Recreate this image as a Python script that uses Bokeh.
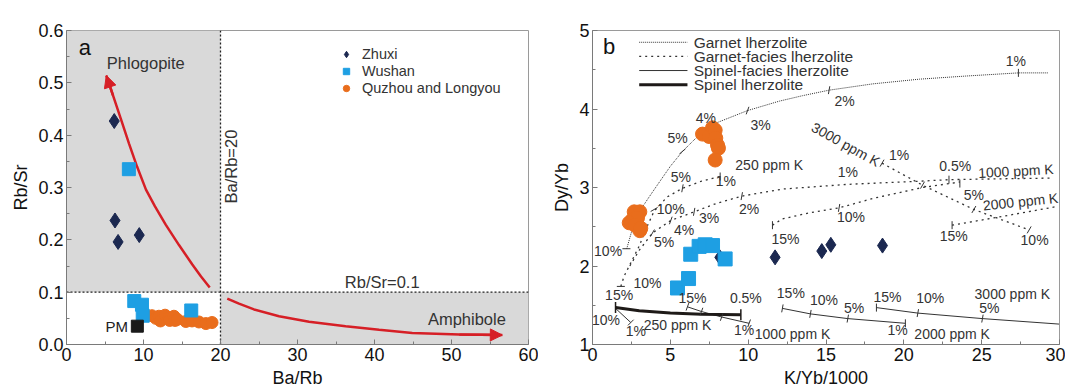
from bokeh.plotting import figure
from bokeh.layouts import row
from bokeh.models import (Range1d, Legend, LegendItem, Arrow, NormalHead,
                          NumeralTickFormatter, FixedTicker)
from bokeh.core.properties import value
from bokeh.embed import file_html
from bokeh.resources import INLINE
import math

FONT = "Liberation Sans"
NAVY = "#1b2850"
BLUE = "#1e9fe3"
ORANGE = "#e96d1c"
RED = "#d61f26"
GRAY = "#d9d9d9"

# ---------------- Panel a data ----------------
zhuxi_a_x = [6.2, 6.3, 6.7, 9.45]
zhuxi_a_y = [0.427, 0.237, 0.196, 0.209]
wushan_a_x = [8.1, 8.8, 9.8, 9.9, 16.2]
wushan_a_y = [0.335, 0.083, 0.076, 0.055, 0.065]
qz_a_x = [11.1, 11.6, 12.0, 12.2, 12.8, 13.3, 13.4, 13.95, 14.1, 14.4, 15.5, 16.3, 17.2, 18.1, 18.9]
qz_a_y = [0.055, 0.050, 0.054, 0.045, 0.056, 0.051, 0.046, 0.054, 0.046, 0.048, 0.044, 0.045, 0.043, 0.040, 0.042]
pm_x = [9.2]
pm_y = [0.035]

# trend arrows (phlogopite, amphibole)
phl_x = [18.6, 17.47, 16.34, 14.61, 12.88, 11.49, 10.32, 9.16, 8.12, 7.08, 6.04, 5.17]
phl_y = [0.109, 0.130, 0.153, 0.190, 0.229, 0.264, 0.296, 0.340, 0.384, 0.430, 0.476, 0.514]
amp_x = [20.88, 22.4, 24.35, 27.6, 31.5, 36.26, 40.6, 44.9, 51.0, 56.6]
amp_y = [0.0878, 0.078, 0.067, 0.054, 0.0435, 0.035, 0.028, 0.022, 0.019, 0.018]

# ---------------- Panel b data ----------------
zhuxi_b_x = [8.18, 11.73, 14.73, 15.31, 18.63]
zhuxi_b_y = [2.11, 2.11, 2.19, 2.27, 2.26]
wushan_b_x = [5.46, 6.17, 6.31, 6.85, 7.24, 7.71, 8.52]
wushan_b_y = [1.72, 1.84, 2.15, 2.25, 2.27, 2.26, 2.09]
qz_b_x = [7.07, 7.49, 7.71, 7.88, 7.92, 8.03, 8.09, 7.88,
          2.68, 3.04, 2.57, 2.89, 2.36, 2.74, 3.04, 3.10]
qz_b_y = [3.68, 3.65, 3.76, 3.73, 3.63, 3.54, 3.50, 3.35,
          2.69, 2.69, 2.59, 2.61, 2.55, 2.52, 2.45, 2.48]

# Garnet lherzolite melting curve
gl_x = [2.2, 2.57, 3.1, 3.64, 4.3, 5.0, 5.78, 6.8, 7.92, 9.96, 12.0, 13.5, 15.2, 18.0, 21.0, 24.0, 27.36, 29.3]
gl_y = [2.22, 2.48, 2.72, 2.88, 3.07, 3.27, 3.46, 3.66, 3.82, 3.98, 4.10, 4.17, 4.24, 4.32, 4.38, 4.42, 4.46, 4.46]

# Garnet-facies lherzolite curves
gf1_x = [1.82, 2.03, 2.46, 2.99, 3.5, 3.96, 4.8, 5.78, 7.0, 8.2]
gf1_y = [1.74, 1.87, 2.04, 2.25, 2.50, 2.70, 2.88, 2.99, 3.08, 3.14]
gf2_x = [2.4, 3.0, 3.85, 5.03, 6.53, 8.0, 9.59, 12.2, 16.4, 21.0, 22.9, 26.0, 29.5]
gf2_y = [2.00, 2.20, 2.42, 2.58, 2.69, 2.80, 2.89, 2.98, 3.04, 3.08, 3.10, 3.11, 3.12]
gf3_x = [11.56, 12.2, 14.0, 15.84, 18.0, 21.2, 23.6]
gf3_y = [2.52, 2.60, 2.68, 2.74, 2.86, 3.00, 3.07]
gf4_x = [18.6, 21.2, 24.5, 28.05]
gf4_y = [3.31, 3.03, 2.72, 2.46]
gf5_x = [23.1, 26.0, 29.9]
gf5_y = [2.52, 2.62, 2.76]

# Spinel-facies lherzolite curves
sf1_x = [1.48, 2.46]
sf1_y = [1.46, 1.28]
sf2_x = [6.1, 7.0, 8.3, 10.06]
sf2_y = [1.48, 1.42, 1.35, 1.27]
sf3_x = [12.2, 14.0, 16.4, 20.1]
sf3_y = [1.46, 1.39, 1.33, 1.27]
sf4_x = [18.24, 20.9, 25.05, 29.97]
sf4_y = [1.47, 1.40, 1.33, 1.26]

# Spinel lherzolite curve
sp_x = [1.48, 3.0, 5.0, 7.0, 9.53]
sp_y = [1.47, 1.43, 1.40, 1.385, 1.38]

# melting-degree tick positions on curves
mt_x = [27.36, 15.2, 9.96, 5.78, 2.18,
        1.82, 3.96, 5.78, 8.2,
        3.85, 5.03, 6.53, 9.59, 22.9,
        11.56, 15.84, 23.6,
        18.6, 21.2, 24.5, 28.05, 23.1,
        2.46, 6.1, 7.0, 8.3, 10.06,
        12.2, 14.0, 16.4, 20.1,
        18.24, 20.9, 25.05]
mt_y = [4.46, 4.24, 3.98, 3.46, 2.22,
        1.74, 2.72, 2.99, 3.14,
        2.42, 2.58, 2.69, 2.89, 3.10,
        2.52, 2.74, 3.05,
        3.31, 3.03, 2.72, 2.46, 2.52,
        1.28, 1.48, 1.42, 1.35, 1.27,
        1.46, 1.39, 1.33, 1.27,
        1.47, 1.40, 1.33]
mt_angle = [90, 80, 70, 40, 0,
            0, 30, 80, 90,
            60, 70, 80, 80, 90,
            90, 80, 90,
            60, 60, 60, 60, 90,
            45, 70, 70, 70, 70,
            80, 80, 80, 90,
            90, 80, 80]
end_x = [1.48, 9.53]
end_y = [1.47, 1.38]

lab_b_text = ["1%", "2%", "3%", "4%", "5%", "10%",
              "250 ppm K", "5%", "1%", "10%", "3%", "2%", "4%", "5%",
              "3000 ppm K", "1%", "1%", "0.5%", "1000 ppm K", "5%", "2000 ppm K",
              "10%", "15%", "10%", "15%",
              "10%", "15%", "15%", "0.5%", "10%", "1%", "250 ppm K", "1%", "1000 ppm K",
              "15%", "10%", "5%", "15%", "10%", "3000 ppm K", "5%", "1%", "2000 ppm K"]
lab_b_x = [27.2, 16.2, 10.8, 7.28, 5.46, 1.0,
           11.35, 5.67, 8.56, 5.03, 7.49, 10.06, 5.89, 4.6,
           16.27, 19.7, 16.4, 23.3, 27.2, 24.5, 27.5,
           16.6, 23.2, 28.4, 12.4,
           3.53, 1.71, 6.42, 9.85, 0.86, 2.78, 5.46, 9.74, 12.85,
           12.74, 14.87, 16.8, 18.95, 21.7, 26.97, 25.5, 19.6, 23.1]
lab_b_y = [4.61, 4.10, 3.80, 3.89, 3.63, 2.19,
           3.29, 3.14, 3.08, 2.72, 2.61, 2.72, 2.46, 2.31,
           3.55, 3.42, 3.20, 3.28, 3.21, 2.91, 2.82,
           2.63, 2.38, 2.33, 2.35,
           1.78, 1.63, 1.59, 1.59, 1.31, 1.17, 1.25, 1.19, 1.14,
           1.65, 1.57, 1.46, 1.60, 1.59, 1.64, 1.46, 1.19, 1.13]
lab_b_angle = [0, 0, 0, 0, 0, 0,
               0, 0, 0, 0, 0, 0, 0, 0,
               -29, 0, 0, 0, 3, 0, 6,
               0, 0, 0, 0,
               0, 0, 0, 0, 0, 0, 0, 0, 0,
               0, 0, 0, 0, 0, 0, 0, 0, 0]

legend_b_labels = ["Garnet lherzolite", "Garnet-facies lherzolite",
                   "Spinel-facies lherzolite", "Spinel lherzolite"]
legend_b_rows = [4.85, 4.67, 4.49, 4.31]


def style_axes(p):
    p.outline_line_color = "#9a9a9a"
    p.outline_line_width = 1
    p.grid.visible = False
    for ax in (p.xaxis[0], p.yaxis[0]):
        ax.axis_line_color = "#7a7a7a"
        ax.major_tick_line_color = "#7a7a7a"
        ax.minor_tick_line_color = "#7a7a7a"
        ax.major_tick_in = 5
        ax.major_tick_out = 0
        ax.minor_tick_in = 3
        ax.minor_tick_out = 0
        ax.major_label_text_font = FONT
        ax.major_label_text_font_size = "18px"
        ax.major_label_text_color = "#111111"
        ax.axis_label_text_font = FONT
        ax.axis_label_text_font_size = "18px"
        ax.axis_label_text_font_style = "normal"
        ax.axis_label_text_color = "#111111"
        ax.major_label_standoff = 3
        ax.axis_label_standoff = 4


# ---------------- Panel a ----------------
pa = figure(frame_width=462, frame_height=314, output_backend="svg", toolbar_location=None,
            x_range=Range1d(0, 60), y_range=Range1d(0, 0.6),
            min_border_left=66, min_border_right=10, min_border_top=30, min_border_bottom=0,
            x_axis_label="Ba/Rb", y_axis_label="Rb/Sr")
style_axes(pa)
pa.xaxis.ticker = FixedTicker(ticks=[0, 10, 20, 30, 40, 50, 60], minor_ticks=[5, 15, 25, 35, 45, 55])
pa.yaxis.ticker = FixedTicker(ticks=[0, 0.1, 0.2, 0.3, 0.4, 0.5, 0.6],
                              minor_ticks=[0.05, 0.15, 0.25, 0.35, 0.45, 0.55])
pa.yaxis.formatter = NumeralTickFormatter(format="0.0")

pa.quad(left=[0, 20], right=[20, 60], bottom=[0.1, 0], top=[0.6, 0.1], fill_color=GRAY, line_color=None)
pa.line([20, 20], [0, 0.6], line_color="#222222", line_dash="2 2", line_width=1.3)
pa.line([0, 60], [0.1, 0.1], line_color="#222222", line_dash="2 2", line_width=1.3)

pa.line(phl_x, phl_y, line_color=RED, line_width=2.5)
pa.add_layout(Arrow(end=NormalHead(size=12, fill_color=RED, line_color=RED),
                    x_start=phl_x[-2], y_start=phl_y[-2], x_end=phl_x[-1], y_end=phl_y[-1],
                    line_color=RED, line_width=2.5))
pa.line(amp_x, amp_y, line_color=RED, line_width=2.5)
pa.add_layout(Arrow(end=NormalHead(size=12, fill_color=RED, line_color=RED),
                    x_start=amp_x[-2], y_start=amp_y[-2], x_end=amp_x[-1], y_end=amp_y[-1],
                    line_color=RED, line_width=2.5))

r_q = pa.scatter(qz_a_x, qz_a_y, marker="circle", size=12, fill_color=ORANGE, line_color=ORANGE)
r_w = pa.scatter(wushan_a_x, wushan_a_y, marker="square", size=13, fill_color=BLUE, line_color=BLUE)
r_z = pa.scatter(zhuxi_a_x, zhuxi_a_y, marker="diamond", size=15, fill_color=NAVY, line_color=NAVY)
pa.scatter(pm_x, pm_y, marker="square", size=12, fill_color="#1a1a1a", line_color="#1a1a1a")

pa.text(x=[2.4], y=[0.567], text=["a"], text_font=value(FONT), text_font_size="22px",
        text_color="#111111", text_align="center", text_baseline="middle")
pa.text(x=[10.3, 41.0, 52.0], y=[0.537, 0.12, 0.048], text=["Phlogopite", "Rb/Sr=0.1", "Amphibole"],
        text_font=value(FONT), text_font_size="16.5px", text_color="#333333",
        text_align="center", text_baseline="middle")
pa.text(x=[pm_x[0] - 1.2], y=[pm_y[0]], text=["PM"], text_font=value(FONT), text_font_size="15px",
        text_color="#222222", text_align="right", text_baseline="middle")
pa.text(x=[21.3], y=[0.34], text=["Ba/Rb=20"], angle=math.pi / 2, text_font=value(FONT),
        text_font_size="16.5px", text_color="#333333", text_align="center", text_baseline="middle")

leg_a = Legend(items=[LegendItem(label="Zhuxi", renderers=[r_z]),
                      LegendItem(label="Wushan", renderers=[r_w]),
                      LegendItem(label="Quzhou and Longyou", renderers=[r_q])],
               location=(272, 248), background_fill_alpha=0, border_line_color=None,
               label_text_font=FONT, label_text_font_size="14.5px", label_text_color="#333333",
               glyph_width=16, glyph_height=16, label_height=16, spacing=1, padding=0, margin=0,
               label_standoff=8)
pa.add_layout(leg_a, "center")

# ---------------- Panel b ----------------
pb = figure(frame_width=467, frame_height=314, output_backend="svg", toolbar_location=None,
            x_range=Range1d(0, 30), y_range=Range1d(1, 5),
            min_border_left=54, min_border_right=6, min_border_top=30, min_border_bottom=0,
            x_axis_label="K/Yb/1000", y_axis_label="Dy/Yb")
style_axes(pb)
pb.xaxis.ticker = FixedTicker(ticks=[0, 5, 10, 15, 20, 25, 30], minor_ticks=[2.5, 7.5, 12.5, 17.5, 22.5, 27.5])
pb.yaxis.ticker = FixedTicker(ticks=[1, 2, 3, 4, 5], minor_ticks=[1.5, 2.5, 3.5, 4.5])

LC = "#333333"
GL_STYLE = dict(line_color=LC, line_width=1, line_dash="1 1")
GF_STYLE = dict(line_color=LC, line_width=1.3, line_dash="2 4")
SF_STYLE = dict(line_color=LC, line_width=1)
SP_STYLE = dict(line_color="#1e1a18", line_width=3)

pb.line(gl_x, gl_y, **GL_STYLE)
for xs, ys in ((gf1_x, gf1_y), (gf2_x, gf2_y), (gf3_x, gf3_y), (gf4_x, gf4_y), (gf5_x, gf5_y)):
    pb.line(xs, ys, **GF_STYLE)
for xs, ys in ((sf1_x, sf1_y), (sf2_x, sf2_y), (sf3_x, sf3_y), (sf4_x, sf4_y)):
    pb.line(xs, ys, **SF_STYLE)
pb.line(sp_x, sp_y, **SP_STYLE)

pb.scatter(mt_x, mt_y, marker="dash", size=8, angle=[a * math.pi / 180 for a in mt_angle],
           angle_units="rad", line_color=LC, line_width=1)
pb.scatter(end_x, end_y, marker="dash", size=11, angle=math.pi / 2, line_color="#1e1a18", line_width=1.5)

pb.scatter(qz_b_x, qz_b_y, marker="circle", size=14, fill_color=ORANGE, line_color=ORANGE)
pb.scatter(zhuxi_b_x, zhuxi_b_y, marker="diamond", size=15, fill_color=NAVY, line_color=NAVY)
pb.scatter(wushan_b_x, wushan_b_y, marker="square", size=14, fill_color=BLUE, line_color=BLUE)

pb.text(x=lab_b_x, y=lab_b_y, text=lab_b_text, angle=[a * math.pi / 180 for a in lab_b_angle],
        text_font=value(FONT), text_font_size="14px", text_color="#333333",
        text_align="center", text_baseline="middle")
pb.text(x=[1.07], y=[4.80], text=["b"], text_font=value(FONT), text_font_size="22px",
        text_color="#111111", text_align="center", text_baseline="middle")

# line-style key (upper left of panel b)
for yrow, st in zip(legend_b_rows, (GL_STYLE, GF_STYLE, SF_STYLE, SP_STYLE)):
    pb.line([3.0, 6.1], [yrow, yrow], **st)
pb.text(x=[6.5] * 4, y=legend_b_rows, text=legend_b_labels, text_font=value(FONT),
        text_font_size="15.5px", text_color="#333333", text_align="left", text_baseline="middle")

layout = row(pa, pb)
open("out.html", "w").write(file_html(layout, INLINE))
